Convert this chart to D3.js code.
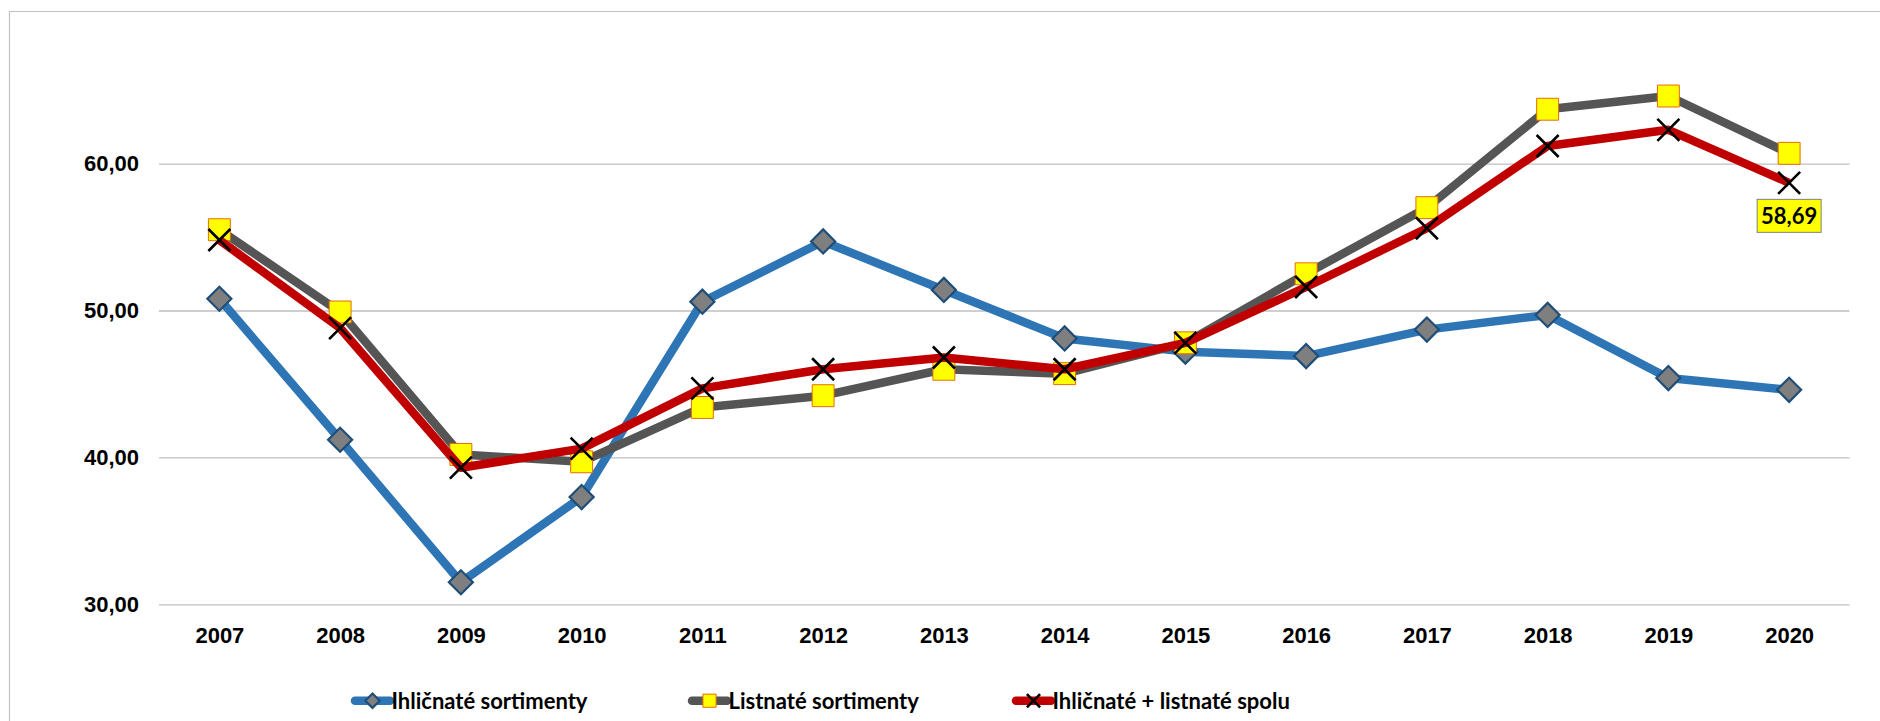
<!DOCTYPE html>
<html>
<head>
<meta charset="utf-8">
<script src="https://cdn.jsdelivr.net/npm/d3@7"></script>
<style>
  body { margin: 0; background: #fff; }
  svg { display: block; font-family: "Lato", "Open Sans", sans-serif; font-weight: bold; }
  .grid line { stroke: #bfbfbf; stroke-width: 1.3; }
  .tick text { font-size: 22px; fill: #000; }
  .legend text { font-size: 22px; fill: #000; }
</style>
</head>
<body>
<script>
var width = 1880;
var height = 721;

// data
var years = ["2007", "2008", "2009", "2010", "2011", "2012", "2013",
  "2014", "2015", "2016", "2017", "2018", "2019", "2020"];
var ihlicnate = [50.8, 41.2, 31.5, 37.3, 50.6, 54.7, 51.4, 48.1, 47.2, 46.9, 48.7, 49.7, 45.4, 44.6];
var listnate = [55.5, 49.9, 40.2, 39.7, 43.4, 44.2, 46.0, 45.7, 47.8, 52.5, 57.0, 63.7, 64.6, 60.7];
var spolu = [54.8, 48.8, 39.3, 40.6, 44.7, 46.0, 46.8, 46.0, 47.8, 51.6, 55.6, 61.2, 62.3, 58.69];
var yTicks = [30, 40, 50, 60];
var seriesNames = ["Ihličnaté sortimenty", "Listnaté sortimenty", "Ihličnaté + listnaté spolu"];

var plotLeft = 159, plotRight = 1849.5;

var svg = d3.select("body").append("svg")
  .attr("width", width)
  .attr("height", height);

// chart frame (only left and top edges are visible)
svg.append("path")
  .attr("d", "M9.5," + height + "V11.5H" + width)
  .attr("fill", "none")
  .attr("stroke", "#c0c0c0")
  .attr("stroke-width", 1.2);

var x = d3.scalePoint().domain(years).range([plotLeft, plotRight]).padding(0.5);
var y = d3.scaleLinear().domain([30, 70]).range([604.3, 16.7]);

var fmt = function(d) { return d3.format(".2f")(d).replace(".", ","); };

// y axis + gridlines
var yAxis = svg.append("g")
  .attr("class", "grid")
  .attr("transform", "translate(" + plotLeft + ",0)")
  .call(d3.axisLeft(y)
    .tickValues(yTicks)
    .tickSize(-(plotRight - plotLeft))
    .tickPadding(20)
    .tickFormat(fmt));
yAxis.select(".domain").remove();

// x axis labels
var xAxis = svg.append("g")
  .attr("transform", "translate(0," + y(30) + ")")
  .call(d3.axisBottom(x).tickSize(0).tickPadding(23));
xAxis.select(".domain").remove();

var series = [
  {name: seriesNames[0], values: ihlicnate, color: "#2e75b6", marker: "diamond"},
  {name: seriesNames[1], values: listnate, color: "#555555", marker: "square"},
  {name: seriesNames[2], values: spolu, color: "#c00000", marker: "cross"}
];

var line = d3.line()
  .x(function(d, i) { return x(years[i]); })
  .y(function(d) { return y(d); });

var crossPath = function(r) {
  return "M" + (-r) + "," + (-r) + "L" + r + "," + r + "M" + (-r) + "," + r + "L" + r + "," + (-r);
};

function drawMarker(sel, type, scale) {
  if (type === "diamond") {
    sel.append("path")
      .attr("d", d3.symbol(d3.symbolSquare, 290 * scale * scale)())
      .attr("transform", "rotate(45)")
      .attr("fill", "#7f7f7f")
      .attr("stroke", "#1f4e79")
      .attr("stroke-width", 2.2);
  } else if (type === "square") {
    sel.append("path")
      .attr("d", d3.symbol(d3.symbolSquare, 480 * scale * scale)())
      .attr("fill", "#ffff00")
      .attr("stroke", "#e46c0a")
      .attr("stroke-width", 1);
  } else {
    sel.append("path")
      .attr("d", crossPath(11 * scale))
      .attr("fill", "none")
      .attr("stroke", "#000")
      .attr("stroke-width", 2.6);
  }
}

series.forEach(function(s) {
  var g = svg.append("g");
  g.append("path")
    .attr("d", line(s.values))
    .attr("fill", "none")
    .attr("stroke", s.color)
    .attr("stroke-width", 8.5)
    .attr("stroke-linejoin", "round");

  g.selectAll(".m")
    .data(s.values)
    .enter()
    .append("g")
    .attr("transform", function(d, i) { return "translate(" + x(years[i]) + "," + y(d) + ")"; })
    .each(function() { drawMarker(d3.select(this), s.marker, 1); });
});

// data label for the last value of the total series
var last = spolu.length - 1;
var lbl = svg.append("g")
  .attr("transform", "translate(" + x(years[last]) + "," + (y(spolu[last]) + 33) + ")");
lbl.append("rect")
  .attr("x", -32).attr("y", -16.5)
  .attr("width", 64).attr("height", 33)
  .attr("fill", "#ffff00")
  .attr("stroke", "#808080")
  .attr("stroke-width", 1);
lbl.append("text")
  .attr("text-anchor", "middle")
  .attr("dy", "0.36em")
  .attr("font-size", 22)
  .text(fmt(spolu[last]));

// legend
var legendX = [355, 692, 1016];
var legend = svg.append("g")
  .attr("class", "legend")
  .selectAll("g")
  .data(series)
  .enter()
  .append("g")
  .attr("transform", function(d, i) { return "translate(" + legendX[i] + ",700.7)"; });

legend.append("line")
  .attr("x1", 0).attr("x2", 35)
  .attr("stroke", function(d) { return d.color; })
  .attr("stroke-width", 8.5)
  .attr("stroke-linecap", "round");

legend.append("g")
  .attr("transform", "translate(17.5,0)")
  .each(function(d) { drawMarker(d3.select(this), d.marker, 0.6); });

legend.append("text")
  .attr("x", 36.5)
  .attr("y", 7.8)
  .text(function(d) { return d.name; });
</script>
</body>
</html>
